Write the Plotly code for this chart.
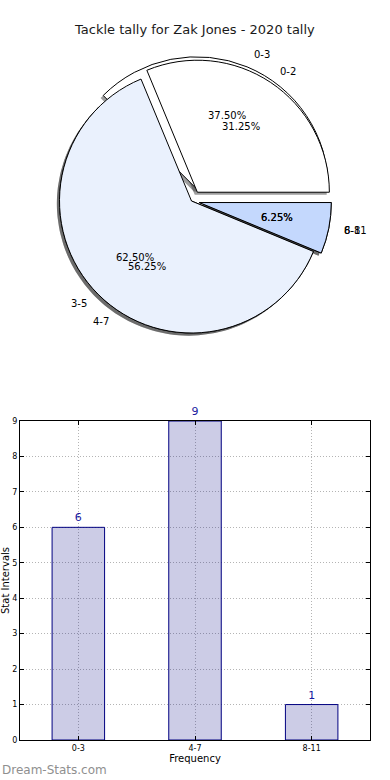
import math
import plotly.graph_objects as go

# ---------------- data ----------------
chart_title = "Tackle tally for Zak Jones - 2020 tally"
pie1_labels = ["0-3", "4-7", "8-11"]
pie1_values = [6, 9, 1]
pie2_labels = ["0-2", "3-5", "6-8"]
pie2_values = [5, 10, 1]
bar_categories = ["0-3", "4-7", "8-11"]
bar_values = [6, 9, 1]
y_tick_values = [0, 1, 2, 3, 4, 5, 6, 7, 8, 9]

# ---------------- style ----------------
W, H = 390, 780
FONT = "DejaVu Sans"
pie1_pull = [0.1, 0, 0.06]
pie2_pull = [0.08, 0, 0.06]
slice_colors = ["#ffffff", "#eaf1fd", "#c4d8fd"]
PIE_CX, PIE_CY, PIE_R = 191.5, 201.0, 132.0
SHADOW_DX, SHADOW_DY = -0.02 * PIE_R, 0.02 * PIE_R


def pie_domain(cx, cy, r, pulls):
    half = r * (1 + max(pulls))
    return dict(x=[(cx - half) / W, (cx + half) / W],
                y=[1 - (cy + half) / H, 1 - (cy - half) / H])


def start_rotation(values):
    # first slice starts at 3 o'clock and slices run counterclockwise
    return 90 - 360.0 * values[0] / sum(values)


fig = go.Figure()

pies = [(pie1_labels, pie1_values, pie1_pull), (pie2_labels, pie2_values, pie2_pull)]

# shadows (below all wedges)
for labels, values, pulls in pies:
    fig.add_trace(go.Pie(
        labels=labels, values=values, pull=pulls, sort=False,
        direction="counterclockwise", rotation=start_rotation(values),
        domain=pie_domain(PIE_CX + SHADOW_DX, PIE_CY + SHADOW_DY, PIE_R, pulls),
        marker=dict(colors=["rgba(60,60,60,0.5)"] * len(values), line=dict(width=0)),
        textinfo="none", hoverinfo="skip", showlegend=False,
    ))

# wedges
for labels, values, pulls in pies:
    fig.add_trace(go.Pie(
        labels=labels, values=values, pull=pulls, sort=False,
        direction="counterclockwise", rotation=start_rotation(values),
        domain=pie_domain(PIE_CX, PIE_CY, PIE_R, pulls),
        marker=dict(colors=slice_colors, line=dict(color="black", width=1)),
        textinfo="none", hoverinfo="skip", showlegend=False,
    ))

annotations = []
# pie labels and percentages, positioned from slice angles
for labels, values, pulls in pies:
    total = float(sum(values))
    start = 0.0
    for lab, v, p in zip(labels, values, pulls):
        ang = 360.0 * v / total
        mid = math.radians(start + ang / 2)
        start += ang
        c, s = math.cos(mid), math.sin(mid)
        ox, oy = PIE_CX + p * PIE_R * c, PIE_CY - p * PIE_R * s
        lx, ly = ox + 1.1 * PIE_R * c, oy - 1.1 * PIE_R * s
        px_, py_ = ox + 0.6 * PIE_R * c, oy - 0.6 * PIE_R * s
        annotations.append(dict(
            x=lx / W, y=1 - ly / H, xref="paper", yref="paper", text=lab,
            showarrow=False, xanchor="left" if c > 0 else "right", yanchor="middle",
            font=dict(family=FONT, size=10, color="black")))
        annotations.append(dict(
            x=px_ / W, y=1 - py_ / H, xref="paper", yref="paper",
            text=f"{100 * v / total:.2f}%",
            showarrow=False, xanchor="center", yanchor="middle",
            font=dict(family=FONT, size=10, color="black")))

# title
annotations.append(dict(x=194 / W, y=1 - 30 / H, xref="paper", yref="paper",
                        text=chart_title, showarrow=False, xanchor="center",
                        yanchor="middle", font=dict(family=FONT, size=13, color="#1a1a1a")))
# watermark
annotations.append(dict(x=0, y=1 - 770 / H, xref="paper", yref="paper",
                        text="Dream-Stats.com", showarrow=False, xanchor="left",
                        yanchor="middle", font=dict(family=FONT, size=12, color="#8f8f8f")))

# bar chart
fig.add_trace(go.Bar(
    x=bar_categories, y=bar_values, width=0.45,
    marker=dict(color="rgba(0,0,128,0.2)", line=dict(color="#000080", width=1)),
    text=[str(v) for v in bar_values], textposition="outside",
    textfont=dict(family=FONT, size=11, color="#1a1aa0"),
    cliponaxis=False, hoverinfo="skip", showlegend=False,
))

fig.update_layout(
    width=W, height=H, margin=dict(l=0, r=0, t=0, b=0, autoexpand=False),
    paper_bgcolor="white", plot_bgcolor="white",
    font=dict(family=FONT, color="black"),
    annotations=annotations,
    xaxis=dict(
        domain=[20 / W, 370 / W], range=[-0.5, 2.5], type="category",
        automargin=False,
        showgrid=True, gridcolor="#b4b4b4", griddash="1px,2px", gridwidth=1,
        showline=True, linecolor="black", linewidth=1, mirror="ticks",
        ticks="inside", ticklen=4, tickcolor="black",
        tickfont=dict(family=FONT, size=8), zeroline=False,
        title=dict(text="Frequency", font=dict(family=FONT, size=10), standoff=2),
    ),
    yaxis=dict(
        domain=[1 - 740 / H, 1 - 421 / H], range=[0, 9], automargin=False,
        tickvals=y_tick_values, ticktext=[str(t) for t in y_tick_values],
        showgrid=True, gridcolor="#b4b4b4", griddash="1px,2px", gridwidth=1,
        showline=True, linecolor="black", linewidth=1, mirror="ticks",
        ticks="inside", ticklen=4, tickcolor="black",
        tickfont=dict(family=FONT, size=8), zeroline=False,
        title=dict(text="Stat Intervals", font=dict(family=FONT, size=10), standoff=4),
    ),
)

fig.write_html(
    "out.html",
    config={"displayModeBar": False, "staticPlot": True},
    post_script="document.body.style.margin='0px';document.body.style.overflow='hidden';",
)
